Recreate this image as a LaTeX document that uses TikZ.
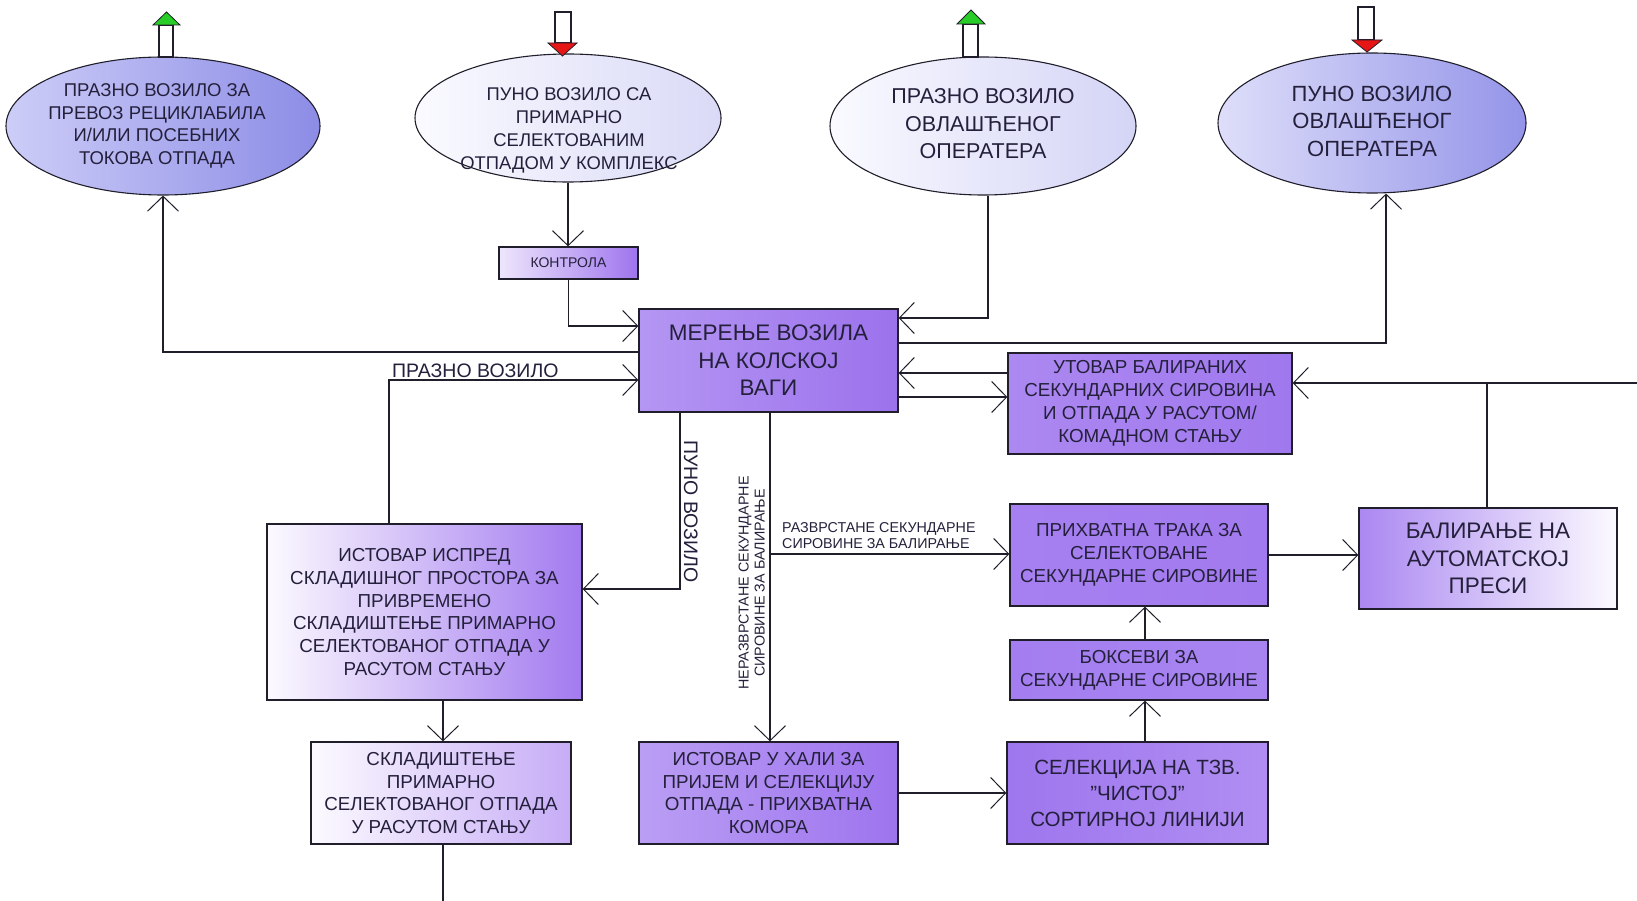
\documentclass[tikz,border=0pt]{standalone}
\usepackage{fontspec}
\setmainfont{Liberation Sans}
\usetikzlibrary{arrows.meta,shapes.geometric}

\definecolor{ink}{RGB}{36,32,60}
\definecolor{edge}{RGB}{32,30,42}
\definecolor{upgreen}{RGB}{40,205,40}
\definecolor{downred}{RGB}{230,22,22}

\newcommand\fdense{\fontsize{18.8}{22.8}\selectfont}
\newcommand\fwide{\fontsize{22.5}{27.5}\selectfont}
\newcommand\flab{\fontsize{19.5}{22}\selectfont}
\newcommand\fsmall{\fontsize{14.3}{16}\selectfont}

\begin{document}
\begin{tikzpicture}[x=1pt,y=-1pt,
  proc/.style={draw=edge, line width=1.3pt, rectangle, align=center,
    inner sep=0pt, text=ink, font=\fdense},
  oval/.style={draw=edge, line width=1.1pt, ellipse, inner sep=0pt},
  ovaltext/.style={align=center, inner sep=0pt, text=ink},
  conn/.style={draw=edge, line width=1.2pt},
  arr/.style={-{Straight Barb[length=15pt,width=31pt,line width=1pt]}},
  lab/.style={inner sep=0pt, text=ink, font=\flab},
  smalllab/.style={inner sep=0pt, text=ink, font=\fsmall},
  hollow/.style={draw=edge, line width=1.1pt, fill=white}]

\useasboundingbox (0,0) rectangle (1637,901);
\fill[white] (0,0) rectangle (1637,901);

% ---- vehicles (ellipses) ----
\node[oval, minimum width=314pt, minimum height=138pt,
  left color={rgb,255:red,205;green,205;blue,248}, right color={rgb,255:red,140;green,140;blue,230}]
  (e1) at (163,126) {};
\node[ovaltext, font=\fontsize{18.5}{22.5}\selectfont] (e1t) at (157,126)
  {ПРАЗНО ВОЗИЛО ЗА\\ПРЕВОЗ РЕЦИКЛАБИЛА\\И/ИЛИ ПОСЕБНИХ\\ТОКОВА ОТПАДА};

\node[oval, minimum width=306pt, minimum height=128pt,
  left color={rgb,255:red,250;green,250;blue,255}, right color={rgb,255:red,218;green,218;blue,247}]
  (e2) at (568,118) {};
\node[ovaltext, font=\fontsize{18.4}{23}\selectfont] (e2t) at (569,130)
  {ПУНО ВОЗИЛО СА\\ПРИМАРНО\\СЕЛЕКТОВАНИМ\\ОТПАДОМ У КОМПЛЕКС};

\node[oval, minimum width=306pt, minimum height=138pt,
  left color={rgb,255:red,250;green,250;blue,255}, right color={rgb,255:red,212;green,212;blue,246}]
  (e3) at (983,126) {};
\node[ovaltext, font=\fontsize{21.5}{27.5}\selectfont] (e3t) at (983,124)
  {ПРАЗНО ВОЗИЛО\\ОВЛАШЋЕНОГ\\ОПЕРАТЕРА};

\node[oval, minimum width=308pt, minimum height=140pt,
  left color={rgb,255:red,222;green,222;blue,250}, right color={rgb,255:red,148;green,148;blue,233}]
  (e4) at (1372,123) {};
\node[ovaltext, font=\fontsize{22}{27.5}\selectfont] (e4t) at (1372,121)
  {ПУНО ВОЗИЛО\\ОВЛАШЋЕНОГ\\ОПЕРАТЕРА};

% ---- in/out block arrows above the vehicles ----
\path[hollow] (159,25) rectangle (173,57);
\path[draw=edge, line width=0.8pt, fill=upgreen] (153,25) -- (180,25) -- (166.5,12) -- cycle;
\path[hollow] (555,12) rectangle (571,43);
\path[draw=edge, line width=0.8pt, fill=downred] (548,43) -- (577,43) -- (562.5,56) -- cycle;
\path[hollow] (963,24) rectangle (978,57);
\path[draw=edge, line width=0.8pt, fill=upgreen] (957,24) -- (985,24) -- (971,10) -- cycle;
\path[hollow] (1358,7) rectangle (1374,40);
\path[draw=edge, line width=0.8pt, fill=downred] (1352,40) -- (1382,40) -- (1367,52) -- cycle;

% ---- process boxes ----
\node[proc, minimum width=139pt, minimum height=32pt, font=\fontsize{14}{16}\selectfont,
  left color={rgb,255:red,238;green,230;blue,252}, right color={rgb,255:red,158;green,116;blue,238}]
  (kon) at (568.5,263) {КОНТРОЛА};

\node[proc, minimum width=259pt, minimum height=103pt, font=\fwide,
  left color={rgb,255:red,180;green,150;blue,243}, right color={rgb,255:red,156;green,114;blue,236}]
  (main) at (768.5,360.5) {МЕРЕЊЕ ВОЗИЛА\\НА КОЛСКОЈ\\ВАГИ};

\node[proc, minimum width=284pt, minimum height=101pt,
  left color={rgb,255:red,172;green,136;blue,241}, right color={rgb,255:red,160;green,120;blue,238}]
  (ut) at (1150,403.5) {УТОВАР БАЛИРАНИХ\\СЕКУНДАРНИХ СИРОВИНА\\И ОТПАДА У РАСУТОМ/\\КОМАДНОМ СТАЊУ};

\node[proc, minimum width=315pt, minimum height=176pt,
  left color={rgb,255:red,252;green,250;blue,255}, right color={rgb,255:red,162;green,122;blue,239}]
  (ist1) at (424.5,612) {ИСТОВАР ИСПРЕД\\СКЛАДИШНОГ ПРОСТОРА ЗА\\ПРИВРЕМЕНО\\СКЛАДИШТЕЊЕ ПРИМАРНО\\СЕЛЕКТОВАНОГ ОТПАДА У\\РАСУТОМ СТАЊУ};

\node[proc, minimum width=260pt, minimum height=102pt,
  left color={rgb,255:red,252;green,250;blue,255}, right color={rgb,255:red,198;green,172;blue,246}]
  (sk) at (441,793) {СКЛАДИШТЕЊЕ\\ПРИМАРНО\\СЕЛЕКТОВАНОГ ОТПАДА\\У РАСУТОМ СТАЊУ};

\node[proc, minimum width=259pt, minimum height=102pt,
  left color={rgb,255:red,186;green,158;blue,244}, right color={rgb,255:red,158;green,116;blue,238}]
  (ist2) at (768.5,793) {ИСТОВАР У ХАЛИ ЗА\\ПРИЈЕМ И СЕЛЕКЦИЈУ\\ОТПАДА - ПРИХВАТНА\\КОМОРА};

\node[proc, minimum width=258pt, minimum height=102pt,
  left color={rgb,255:red,166;green,128;blue,240}, right color={rgb,255:red,162;green,122;blue,239}]
  (prih) at (1139,555) {ПРИХВАТНА ТРАКА ЗА\\СЕЛЕКТОВАНЕ\\СЕКУНДАРНЕ СИРОВИНЕ};

\node[proc, minimum width=258pt, minimum height=60pt,
  left color={rgb,255:red,164;green,126;blue,240}, right color={rgb,255:red,168;green,132;blue,241}]
  (boks) at (1139,670) {БОКСЕВИ ЗА\\СЕКУНДАРНЕ СИРОВИНЕ};

\node[proc, minimum width=261pt, minimum height=102pt, font=\fontsize{20.6}{26}\selectfont,
  left color={rgb,255:red,158;green,118;blue,238}, right color={rgb,255:red,176;green,142;blue,242}]
  (sel) at (1137.5,793) {СЕЛЕКЦИЈА НА ТЗВ.\\"ЧИСТОЈ"\\СОРТИРНОЈ ЛИНИЈИ};

\node[proc, minimum width=258pt, minimum height=101pt, font=\fwide,
  left color={rgb,255:red,170;green,136;blue,241}, right color={rgb,255:red,252;green,250;blue,255}]
  (bal) at (1488,558.5) {БАЛИРАЊЕ НА\\АУТОМАТСКОЈ\\ПРЕСИ};

% ---- free ends and junctions ----
\coordinate (inR) at (1637,383);
\coordinate (jBal) at (1487,383);
\coordinate (jSort) at (770,554);
\coordinate (outB) at (443,901);

% ---- connectors ----
\draw[conn,arr] (e2.south) -- (e2.south |- kon.north);
\draw[conn,arr] (kon.south) -- (kon.south |- 0,326) -- (main.west |- 0,326);
\draw[conn,arr] (main.west |- 0,352) -| (e1.south);
\draw[conn,arr] (ist1.north -| 389,0) |- (main.west |- 0,380);
\draw[conn,arr] (e3.south -| 988,0) |- (main.east |- 0,318);
\draw[conn,arr] (main.east |- 0,343) -| (e4.south -| 1386,0);
\draw[conn,arr] (ut.west |- 0,373) -- (main.east |- 0,373);
\draw[conn,arr] (main.east |- 0,397) -- (ut.west |- 0,397);
\draw[conn,arr] (inR) -- (ut.east |- inR);
\draw[conn] (bal.north -| jBal) -- (jBal);
\draw[conn,arr] (prih.east |- 0,555) -- (bal.west |- 0,555);
\draw[conn,arr] (main.south -| 680,0) |- (ist1.east |- 0,589);
\draw[conn,arr] (main.south -| jSort) -- (ist2.north -| jSort);
\draw[conn,arr] (jSort) -- (prih.west |- jSort);
\draw[conn,arr] (ist1.south -| outB) -- (sk.north -| outB);
\draw[conn] (sk.south -| outB) -- (outB);
\draw[conn,arr] (ist2.east |- 0,793) -- (sel.west |- 0,793);
\draw[conn,arr] (sel.north -| 1145,0) -- (boks.south -| 1145,0);
\draw[conn,arr] (boks.north -| 1145,0) -- (prih.south -| 1145,0);

% ---- connector labels ----
\node[lab, anchor=base west] (lEmpty) at (392,377) {ПРАЗНО ВОЗИЛО};
\node[lab, anchor=base west, rotate=-90] (lFull) at (684,440) {ПУНО ВОЗИЛО};
\node[smalllab, align=center, anchor=south, rotate=90] (lUnsorted) at (765,583)
  {НЕРАЗВРСТАНЕ СЕКУНДАРНЕ\\СИРОВИНЕ ЗА БАЛИРАЊЕ};
\node[smalllab, align=left, anchor=south west] (lSorted) at (782,549)
  {РАЗВРСТАНЕ СЕКУНДАРНЕ\\СИРОВИНЕ ЗА БАЛИРАЊЕ};

\end{tikzpicture}
\end{document}
